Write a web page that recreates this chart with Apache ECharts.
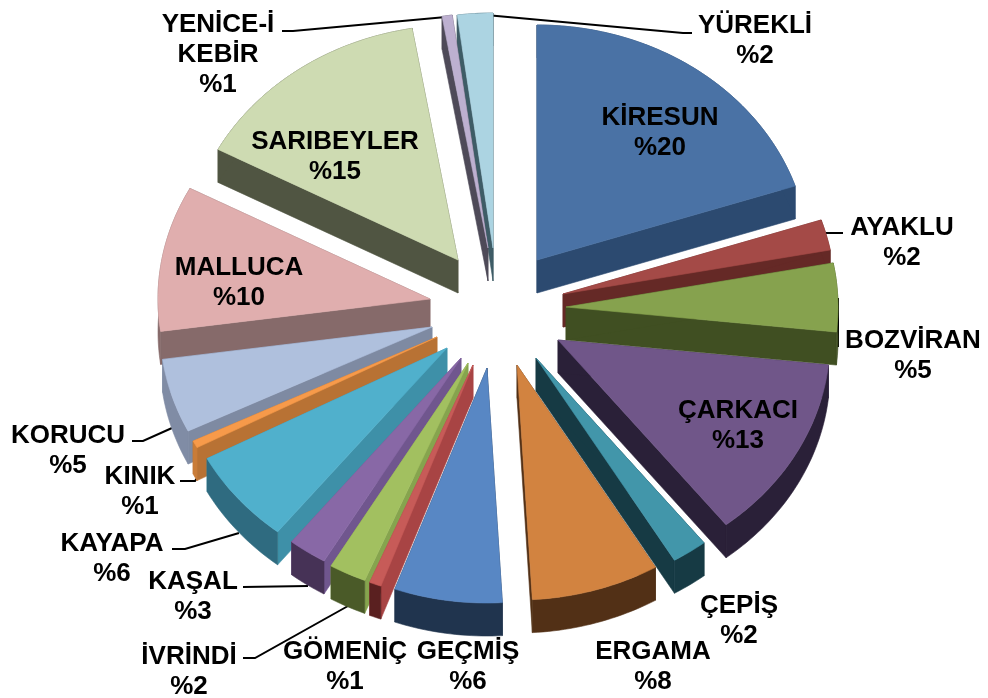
<!DOCTYPE html>
<html><head><meta charset="utf-8">
<style>html,body{margin:0;padding:0;background:#fff}#c{width:988px;height:698px}</style>
<script src="https://cdn.jsdelivr.net/npm/echarts@6/dist/echarts.min.js"></script>
</head><body><div id="c"></div>
<script>
// Data
const categories = ['KİRESUN','AYAKLU','BOZVİRAN','ÇARKACI','ÇEPİŞ','ERGAMA','GEÇMİŞ','GÖMENİÇ','İVRİNDİ','KAŞAL','KAYAPA','KINIK','KORUCU','MALLUCA','SARIBEYLER','YENİCE-İ\nKEBİR','YÜREKLİ'];
const shares = [19.9,2.1,4.7,12.7,2.1,7.6,6.4,0.7,2.2,2.3,6.5,0.5,5.1,10.0,14.5,0.6,2.1];
const printedPercent = [20,2,5,13,2,8,6,1,2,3,6,1,5,10,15,1,2];

// Layout and styling
const explodeX = [40,66,69,61,39,20,-10,-24,-29,-36,-50,-60,-65,-67,-39,-9,-4];
const explodeY = [-40,-6,7,40,58,65,68,65,63,58,48,37,27,-1,-40,-52,-52];
const topColors  = ['#4a72a5','#a44a47','#86a24e','#705689','#4296aa','#d28340','#5887c4','#c75b58','#a2c060','#8868a6','#50b0cc','#f79a4a','#afc0dd','#e0aeae','#cedbb2','#bdb0d0','#acd4e2'];
const rimColors  = ['#2c4a70','#652926','#404f22','#2a2038','#163a44','#523016','#20344e','#5a2020','#4a5a28','#463256','#2f6b80','#c97c38','#808ca5','#866a6a','#505542','#4e4a58','#3e5c66'];
const edgeColors = ['#2c4a70','#652926','#404f22','#2a2038','#163a44','#523016','#20344e','#a84444','#86a44e','#70568e','#3e90a8','#b87234','#7e8aa2','#866a6a','#505542','#4e4a58','#3e5c66'];
const labelX = [660,902,913,738,739,653,468,345,189,193,112,140,68,239,335,218,755];
const labelY = [133,243,356,426,621,667,667,667,672,597,559,492,451,283,157,55,41];
const leaders = [
  [[475,14],[683,33],[692,33]],
  [[826,233],[843,233]],
  [[838,298],[838,347]],
  [[132,441],[143,441],[172,428]],
  [[180,481],[195,481],[197,478]],
  [[172,549],[185,549],[239,533]],
  [[243,587],[308,586]],
  [[243,658],[255,658],[348,606]],
  [[282,31],[293,31],[446,17]]
];
const CX = 497, CY = 300, RX = 272, RY = 235, DEPTH = 33;

const total = shares.reduce((a, b) => a + b, 0);
const starts = [];
shares.reduce((acc, v, i) => { starts[i] = acc; return acc + v; }, 0);

function pt(ax, ay, theta) { return [ax + RX * Math.sin(theta), ay - RY * Math.cos(theta)]; }

function renderItem(params, api) {
  const i = params.dataIndex, v = api.value(1);
  const a0 = starts[i] / total * 2 * Math.PI, a1 = a0 + v / total * 2 * Math.PI;
  const ax = CX + explodeX[i], ay = CY + explodeY[i];
  const rim = [];
  const n = Math.max(4, Math.ceil((a1 - a0) / 0.02));
  for (let k = 0; k <= n; k++) rim.push(pt(ax, ay, a0 + (a1 - a0) * k / n));
  const down = p => [p[0], p[1] + DEPTH];
  const midY = ay - RY * 0.6 * Math.cos((a0 + a1) / 2);
  const z = Math.round(midY) + 300;
  const poly = (pts, c, zz) => ({ type: 'polygon', z2: zz, shape: { points: pts },
    style: { fill: c, stroke: c, lineWidth: 0.6 } });
  const first = rim[0], last = rim[rim.length - 1], apex = [ax, ay];
  return { type: 'group', children: [
    poly([apex, last, down(last), down(apex)], edgeColors[i], z),
    poly([apex, first, down(first), down(apex)], edgeColors[i], z),
    poly(rim.concat(rim.slice().reverse().map(down)), rimColors[i], z),
    poly([apex].concat(rim), topColors[i], z + 1)
  ]};
}

const chart = echarts.init(document.getElementById('c'), null, { renderer: 'canvas' });
chart.setOption({
  animation: false,
  backgroundColor: '#ffffff',
  series: [
    { type: 'custom', coordinateSystem: 'none', renderItem,
      data: categories.map((c, i) => [c, shares[i]]), silent: true, z: 2 },
    { type: 'custom', coordinateSystem: 'none', silent: true, z: 1,
      data: leaders.map((_, i) => [i]),
      renderItem: (p) => ({ type: 'polyline', shape: { points: leaders[p.dataIndex] },
        style: { stroke: '#000', lineWidth: 2, fill: null } }) },
    { type: 'custom', coordinateSystem: 'none', silent: true, z: 3,
      data: categories.map((c, i) => [c, shares[i]]),
      renderItem: (p) => ({ type: 'text', x: labelX[p.dataIndex], y: labelY[p.dataIndex],
        style: { text: categories[p.dataIndex] + '\n%' + printedPercent[p.dataIndex],
          align: 'center', verticalAlign: 'middle', fill: '#000',
          font: 'bold 26px "Liberation Sans", Arial, sans-serif', lineHeight: 30 } }) }
  ]
});
</script></body></html>
